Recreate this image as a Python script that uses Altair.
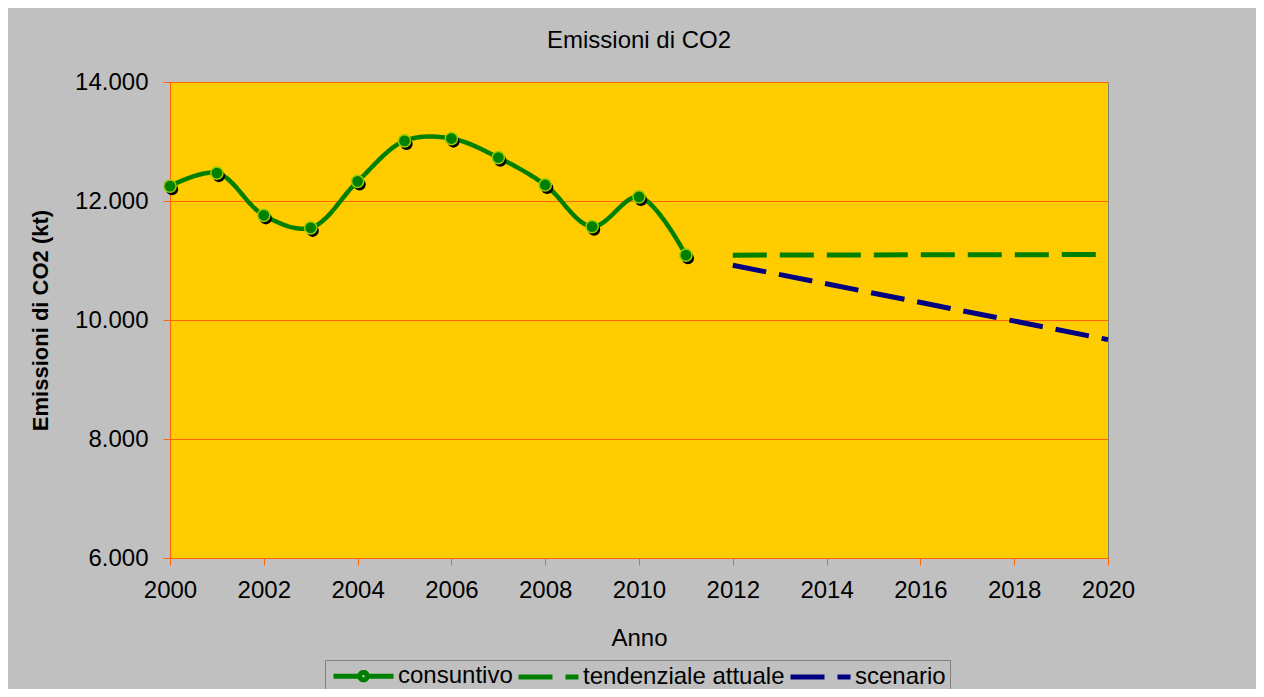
import altair as alt
import pandas as pd

FONT = "Liberation Sans"

series_names = ["consuntivo", "tendenziale attuale", "scenario"]
series_colors = ["#008000", "#008000", "#000080"]

years_hist = [2000, 2001, 2002, 2003, 2004, 2005, 2006, 2007, 2008, 2009, 2010, 2011]
consuntivo = [12250, 12470, 11760, 11550, 12330, 13010, 13050, 12730, 12270, 11570, 12070, 11090]

years_tend = [2012, 2020]
tendenziale = [11090, 11100]

years_scen = [2012, 2020]
scenario = [10920, 9670]

x_ticks = list(range(2000, 2021, 2))
y_ticks = [6000, 8000, 10000, 12000, 14000]

rows = []
for y, v in zip(years_hist, consuntivo):
    rows.append({"anno": y, "valore": v, "serie": "consuntivo"})
for y, v in zip(years_tend, tendenziale):
    rows.append({"anno": y, "valore": v, "serie": "tendenziale attuale"})
for y, v in zip(years_scen, scenario):
    rows.append({"anno": y, "valore": v, "serie": "scenario"})
df = pd.DataFrame(rows)

# legend symbol shapes (unit = half of sqrt(symbolSize))
LINE_DOT = "M-1,0H2.5M3.5,0H7M3.5,0A0.5,0.5 0 1 1 2.5,0A0.5,0.5 0 1 1 3.5,0"
LINE = "M-1,0H7"

x_enc = alt.X("anno:Q",
              scale=alt.Scale(domain=[2000, 2020], nice=False, zero=False),
              axis=alt.Axis(values=x_ticks, format="d", title="Anno", grid=False,
                            titleX=469, titleY=80, titleBaseline="middle",
                            labelPadding=13, labelFlush=False))
y_enc = alt.Y("valore:Q",
              scale=alt.Scale(domain=[6000, 14000], nice=False, zero=False),
              axis=alt.Axis(values=y_ticks, title="Emissioni di CO2 (kt)",
                            labelExpr="replace(format(datum.value, ','), ',', '.')",
                            titleFontWeight="bold", titleFontSize=22, titleAngle=270,
                            titleX=-130, titleY=238, titleAlign="center",
                            titleBaseline="middle", labelPadding=15))

legend = alt.Legend(title=None, orient="none", direction="horizontal",
                    legendX=155, legendY=578, columns=3,
                    symbolSize=225, symbolStrokeWidth=5, symbolOpacity=1,
                    labelFontSize=24, labelFont=FONT, labelColor="black",
                    labelLimit=0,
                    strokeColor="#808080", fillColor="#C0C0C0",
                    padding=4, columnPadding=-5, labelOffset=45)

color_enc = alt.Color("serie:N",
                      scale=alt.Scale(domain=series_names, range=series_colors),
                      legend=legend)
dash_enc = alt.StrokeDash("serie:N",
                          scale=alt.Scale(domain=series_names,
                                          range=[[1, 0], [34, 13], [34, 13]]),
                          legend=legend)
shape_enc = alt.Shape("serie:N",
                      scale=alt.Scale(domain=series_names,
                                      range=[LINE_DOT, LINE, LINE]),
                      legend=legend)

base = alt.Chart(df).encode(x=x_enc, y=y_enc, color=color_enc, strokeDash=dash_enc)

line_hist = base.transform_filter(alt.datum.serie == "consuntivo").mark_line(
    strokeWidth=4.5, interpolate="catmull-rom")
line_tend = base.transform_filter(alt.datum.serie == "tendenziale attuale").mark_line(
    strokeWidth=5)
line_scen = base.transform_filter(alt.datum.serie == "scenario").mark_line(
    strokeWidth=5)

legend_layer = alt.Chart(df).mark_point(size=0, filled=False, strokeWidth=5,
                                        opacity=1).encode(
    x=alt.X("anno:Q"), y=alt.Y("valore:Q"),
    color=color_enc, strokeDash=dash_enc, shape=shape_enc)

pts = alt.Chart(df).transform_filter(alt.datum.serie == "consuntivo").encode(
    x=alt.X("anno:Q"), y=alt.Y("valore:Q"))
shadow = pts.mark_circle(color="black", size=150, opacity=1, xOffset=2, yOffset=3)
dots = pts.mark_circle(fill="#008000", stroke="#99CC00", strokeWidth=1.5,
                       size=150, opacity=1)

chart = alt.layer(line_hist, shadow, dots, line_tend, line_scen, legend_layer).properties(
    width=938, height=476,
    autosize=alt.AutoSizeParams(type="none"),
    padding={"left": 162, "top": 74, "right": 148, "bottom": 131},
    title=alt.TitleParams("Emissioni di CO2", fontSize=24, font=FONT,
                          fontWeight="normal", color="black", anchor="middle",
                          offset=17),
).configure(
    background="#C0C0C0",
).configure_view(
    fill="#FFCC00", stroke="#808080", strokeWidth=1,
).configure_axis(
    domainColor="#FF6600", domainWidth=1, gridColor="#FF6600", gridWidth=1,
    tickColor="#FF6600", tickSize=7, labelFont=FONT, titleFont=FONT,
    labelFontSize=24, titleFontSize=24, labelColor="black", titleColor="black",
    titleFontWeight="normal",
)

chart.save("out.html", embed_options={"renderer": "svg", "actions": False})
